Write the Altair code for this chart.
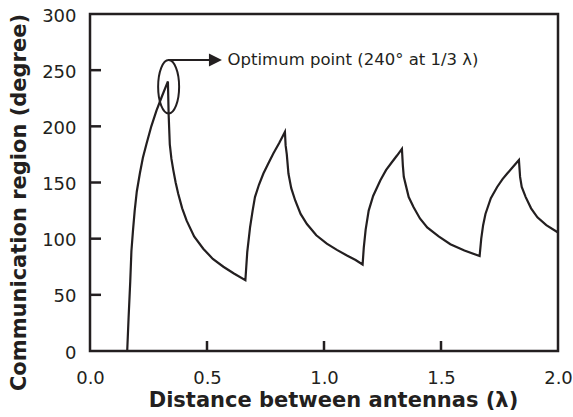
import altair as alt
import pandas as pd

# Curve data (distance in wavelengths, communication region in degrees)
x_vals = [0.159, 0.165, 0.172, 0.177, 0.184, 0.191, 0.200, 0.213, 0.226, 0.241, 0.262, 0.284, 0.308, 0.333,
          0.336, 0.341, 0.348, 0.356, 0.366, 0.377, 0.394, 0.413, 0.445, 0.484, 0.525, 0.570, 0.615, 0.664,
          0.672, 0.684, 0.695, 0.705, 0.722, 0.741, 0.762, 0.784, 0.808, 0.833,
          0.836, 0.841, 0.848, 0.860, 0.877, 0.900, 0.927, 0.967, 1.012, 1.055, 1.098, 1.135, 1.165,
          1.170, 1.178, 1.191, 1.210, 1.241, 1.265, 1.290, 1.312, 1.333,
          1.337, 1.341, 1.348, 1.362, 1.383, 1.410, 1.441, 1.490, 1.540, 1.600, 1.665,
          1.672, 1.680, 1.690, 1.713, 1.740, 1.763, 1.783, 1.808, 1.833,
          1.838, 1.845, 1.862, 1.885, 1.912, 1.950, 2.000]
y_vals = [0, 30, 62, 89, 108, 125, 142, 158, 172, 184, 200, 214, 227, 240,
          211, 184, 171, 161, 150, 140, 127, 116, 102, 91, 82, 75, 69, 63,
          88, 110, 125, 137, 148, 158, 167, 176, 185, 195,
          183, 175, 158, 145, 134, 122, 113, 103, 95.5, 90, 85, 81, 77,
          92, 108, 125, 138, 152, 161, 168, 174, 180,
          165, 155, 149, 137, 128, 118, 110, 102, 95, 89.5, 84.5,
          100, 112, 122, 136, 146, 153, 158, 164, 170,
          155, 146, 137, 127, 119, 112, 105.5]

x_tick_vals = [0.0, 0.5, 1.0, 1.5, 2.0]
y_tick_vals = [0, 50, 100, 150, 200, 250, 300]
x_inner_ticks = [0.5, 1.0, 1.5]
y_inner_ticks = [50, 100, 150, 200, 250]

# Annotation
ellipse_x = [0.336]
ellipse_y = [235.3]
arrow_x = [0.334, 0.52]
arrow_y = [259, 259]
head_x = [0.536]
head_y = [259]
note_x = [0.588]
note_y = [254.6]
note_text = ["Optimum point (240\u00b0 at 1/3 \u03bb)"]

W, H = 468, 337
FONT = "DejaVu Sans"
INK = "#231f20"

xscale = alt.Scale(domain=[0, 2], nice=False, zero=False)
yscale = alt.Scale(domain=[0, 300], nice=False)

X_ENC = alt.X("x:Q", scale=xscale,
              axis=alt.Axis(values=x_tick_vals, format=".1f", ticks=False, domain=False, grid=False,
                            labelFont=FONT, labelFontSize=18, labelColor=INK, labelFlush=False,
                            labelBaseline="alphabetic", labelPadding=32,
                            title="Distance between antennas (\u03bb)", titleFont=FONT,
                            titleFontSize=21, titleFontWeight="bold", titleColor=INK,
                            titleX=243, titleY=55, titleBaseline="alphabetic"))
Y_ENC = alt.Y("y:Q", scale=yscale,
              axis=alt.Axis(values=y_tick_vals, ticks=False, domain=False, grid=False,
                            labelFont=FONT, labelFontSize=18, labelColor=INK, labelFlush=False,
                            labelPadding=14, labelOffset=2,
                            title="Communication region (degree)", titleFont=FONT,
                            titleFontSize=21, titleFontWeight="bold", titleColor=INK,
                            titleX=-65, titleY=188, titleBaseline="alphabetic"))

curve_df = pd.DataFrame({"x": x_vals, "y": y_vals, "i": list(range(len(x_vals)))})

curve = alt.Chart(curve_df).mark_line(color=INK, strokeWidth=2.2, strokeJoin="miter").encode(
    x=X_ENC, y=Y_ENC, order="i:Q")

xt = alt.Chart(pd.DataFrame({"x": x_inner_ticks})).mark_rule(color=INK, strokeWidth=2.5).encode(
    x=X_ENC, y=alt.value(H), y2=alt.value(H - 10))
yt = alt.Chart(pd.DataFrame({"y": y_inner_ticks})).mark_rule(color=INK, strokeWidth=2.5).encode(
    y=Y_ENC, x=alt.value(0), x2=alt.value(11))

ellipse = alt.Chart(pd.DataFrame({"x": ellipse_x, "y": ellipse_y})).mark_point(
    shape="M -0.393 0 A 0.393 1 0 1 0 0.393 0 A 0.393 1 0 1 0 -0.393 0 Z",
    size=2852, filled=False, stroke=INK, strokeWidth=2, opacity=1).encode(x=X_ENC, y=Y_ENC)

arrow = alt.Chart(pd.DataFrame({"x": arrow_x, "y": arrow_y})).mark_line(
    color=INK, strokeWidth=2).encode(x=X_ENC, y=Y_ENC)

head = alt.Chart(pd.DataFrame({"x": head_x, "y": head_y})).mark_point(
    shape="M -1 -1 L 1 0 L -1 1 Z", size=169, filled=True, fill=INK, strokeWidth=0,
    opacity=1).encode(x=X_ENC, y=Y_ENC)

note = alt.Chart(pd.DataFrame({"x": note_x, "y": note_y, "t": note_text})).mark_text(
    align="left", baseline="alphabetic", font=FONT, fontSize=16.5, color=INK).encode(
    x=X_ENC, y=Y_ENC, text="t:N")

chart = alt.layer(curve, xt, yt, ellipse, arrow, head, note).properties(
    width=W, height=H,
    autosize=alt.AutoSizeParams(type="none"),
    padding={"left": 90, "top": 14, "right": 15, "bottom": 66},
    background="white",
).configure_view(stroke=INK, strokeWidth=2.5)

chart.save("out.html", embed_options={"renderer": "svg", "actions": False})
